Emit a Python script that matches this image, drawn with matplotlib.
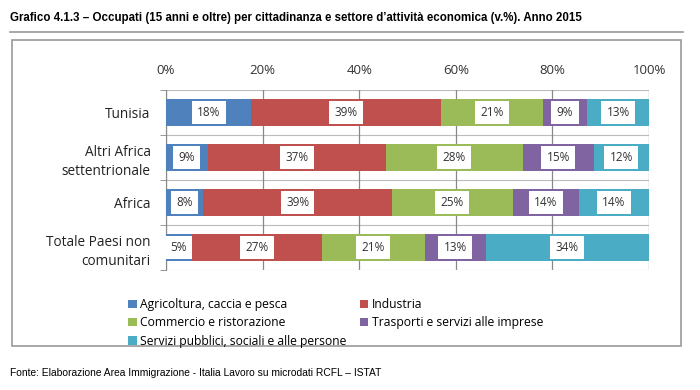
import matplotlib
matplotlib.use("Agg")
import matplotlib.pyplot as plt
from matplotlib.patches import Rectangle
from matplotlib.lines import Line2D
import numpy as np

categories = ["Tunisia", "Altri Africa\nsettentrionale", "Africa", "Totale Paesi non\ncomunitari"]
series_names = ["Agricoltura, caccia e pesca", "Industria", "Commercio e ristorazione",
                "Trasporti e servizi alle imprese", "Servizi pubblici, sociali e alle persone"]
values = {
    "Agricoltura, caccia e pesca": [17.6, 8.6, 7.7, 5.3],
    "Industria": [39.4, 36.9, 39.1, 26.9],
    "Commercio e ristorazione": [21.0, 28.4, 25.0, 21.4],
    "Trasporti e servizi alle imprese": [9.2, 14.7, 13.7, 12.6],
    "Servizi pubblici, sociali e alle persone": [12.8, 11.4, 14.5, 33.8],
}
labels = {
    "Agricoltura, caccia e pesca": ["18%", "9%", "8%", "5%"],
    "Industria": ["39%", "37%", "39%", "27%"],
    "Commercio e ristorazione": ["21%", "28%", "25%", "21%"],
    "Trasporti e servizi alle imprese": ["9%", "15%", "14%", "13%"],
    "Servizi pubblici, sociali e alle persone": ["13%", "12%", "14%", "34%"],
}
xticks = [0, 20, 40, 60, 80, 100]
xticklabels = ["0%", "20%", "40%", "60%", "80%", "100%"]
colors = ["#4F81BD", "#C0504D", "#9BBB59", "#8064A2", "#4BACC6"]

body_font = ["Open Sans", "DejaVu Sans"]
narrow_font = ["Liberation Sans Narrow", "Liberation Sans", "DejaVu Sans"]

fig = plt.figure(figsize=(7, 3.9), dpi=100)

# Title and rule
fig.text(10/700, 1-18/390, "Grafico 4.1.3 \u2013 Occupati (15 anni e oltre) per cittadinanza e settore d\u2019attivit\u00e0 economica (v.%). Anno 2015",
         fontsize=8.3, fontweight="bold", family=narrow_font, va="center", ha="left")
fig.add_artist(Line2D([10/700, 683/700], [1-32/390, 1-32/390], color="#999999", lw=1.2))

# Outer frame
fig.add_artist(Rectangle((12/700, 1-346/390), (681-12)/700, (346-40)/390,
                         fill=False, edgecolor="#9a9a9a", lw=1.2))

ax = fig.add_axes([166/700, 1-270/390, (649-166)/700, (270-90)/390])
y = np.arange(len(categories))
left = np.zeros(len(categories))
for name, c in zip(series_names, colors):
    v = np.array(values[name])
    bars = ax.barh(y, v, left=left, color=c, height=0.6, label=name, zorder=3)
    for bi, (b, lab) in enumerate(zip(bars, labels[name])):
        cx = b.get_x() + b.get_width()/2
        ax.text(cx, b.get_y() + b.get_height()/2, lab, ha="center", va="center",
                fontsize=8.5, family=body_font, color="#333333", zorder=5,
                bbox=dict(boxstyle="square,pad=0.45", facecolor="white", edgecolor="none"))
    left += v

ax.set_xlim(0, 100)
ax.set_ylim(len(categories)-0.5, -0.5)
ax.xaxis.tick_top()
ax.set_xticks(xticks)
ax.set_xticklabels(xticklabels, fontsize=9.5, family=body_font, color="#333333")
ax.tick_params(axis="x", length=0, pad=9)
ax.set_yticks(y)
ax.set_yticklabels(categories, fontsize=9.8, family=body_font, color="#222222", linespacing=1.45)
ax.tick_params(axis="y", length=0, pad=11)
ax.set_yticks(np.arange(len(categories)+1) - 0.5, minor=True)
ax.tick_params(axis="y", which="minor", length=4, color="#888888", direction="out")
ax.grid(axis="x", color="#888888", lw=0.9, zorder=0)
for yy in np.arange(len(categories)+1) - 0.5:
    ax.axhline(yy, color="#bbbbbb", lw=0.8, zorder=1)
for s in ["top", "right", "bottom"]:
    ax.spines[s].set_visible(False)
ax.spines["left"].set_color("#888888")

handles, hl = ax.get_legend_handles_labels()
order = [0, 2, 4, 1, 3]
leg = fig.legend([handles[i] for i in order], [hl[i] for i in order], ncol=2,
                 loc="upper left", bbox_to_anchor=(122/700, 1-292/390), frameon=False,
                 prop={"family": body_font, "size": 8.7}, handlelength=0.7, handleheight=0.7,
                 handletextpad=0.3, labelspacing=0.45, columnspacing=1.1, borderpad=0)

fig.text(10/700, 1-373/390, "Fonte: Elaborazione Area Immigrazione - Italia Lavoro su microdati RCFL \u2013 ISTAT",
         fontsize=7.4, family=narrow_font, va="center", ha="left")

fig.savefig("out.png", dpi=100)
